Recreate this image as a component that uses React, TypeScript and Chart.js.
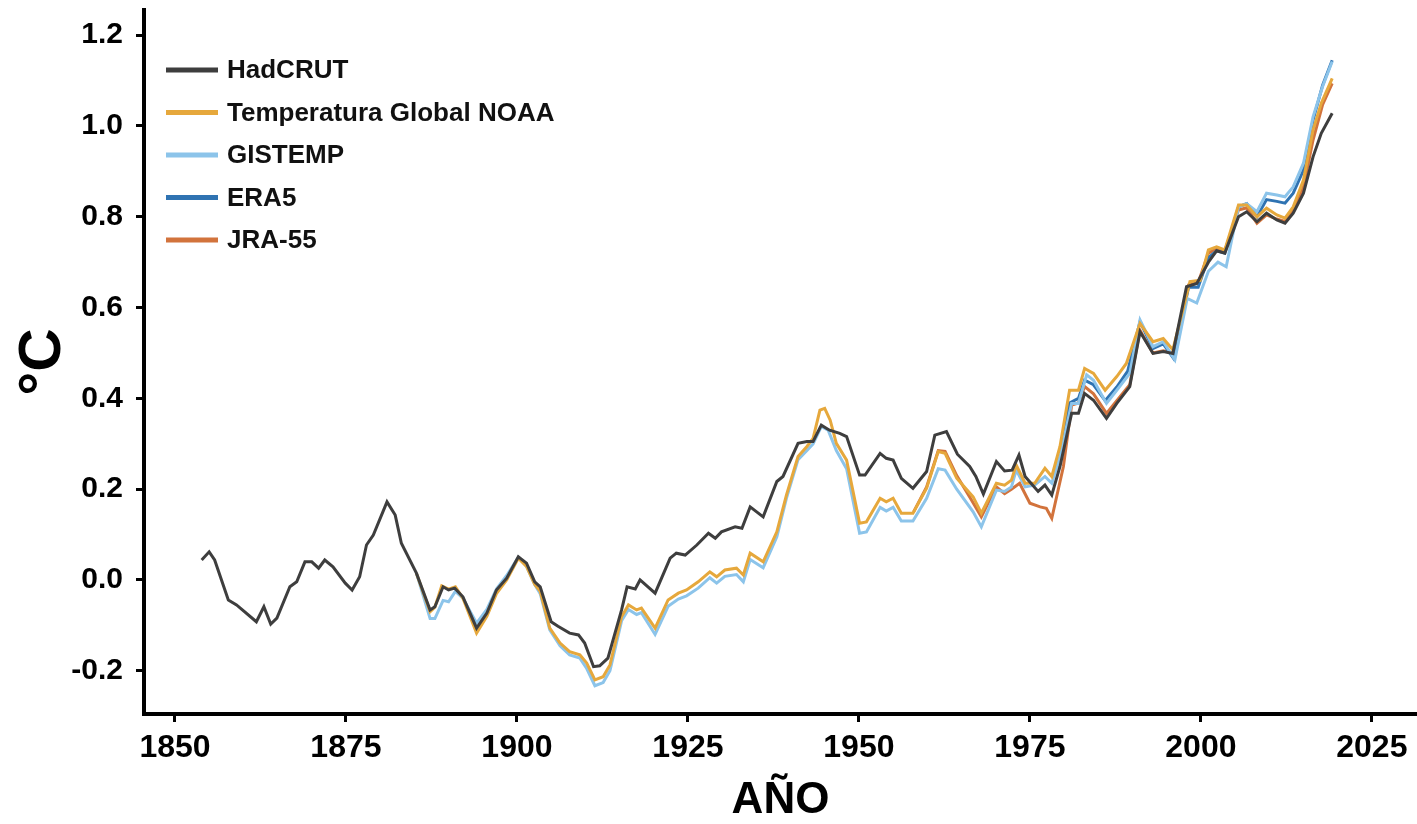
import React, { useEffect, useRef } from "react";
import { Chart, registerables } from "chart.js";

Chart.register(...registerables);

// ---- Axis ticks ----
const xTickYears = [1850, 1875, 1900, 1925, 1950, 1975, 2000, 2025];
const yTickValues = [-0.2, 0.0, 0.2, 0.4, 0.6, 0.8, 1.0, 1.2];

// ---- HadCRUT ----
const hadcrutYears = [
  1853.9, 1855.0, 1855.8, 1857.8, 1859.0, 1861.9, 1863.0, 1864.0, 1864.9, 1866.8,
  1867.8, 1869.0, 1870.0, 1871.0, 1871.9, 1873.1, 1874.9, 1875.9, 1877.0, 1878.0,
  1879.0, 1881.0, 1882.2, 1883.1, 1885.3, 1887.3, 1888.0, 1889.2, 1890.0, 1890.9,
  1892.1, 1894.1, 1895.6, 1897.0, 1898.5, 1900.2, 1901.4, 1902.6, 1903.4, 1905.0,
  1906.0, 1907.7, 1909.0, 1909.9, 1911.2, 1912.1, 1913.3, 1915.3, 1916.1, 1917.3,
  1918.0, 1920.2, 1922.4, 1923.3, 1924.6, 1926.3, 1928.0, 1929.0, 1929.9, 1931.9,
  1932.9, 1934.1, 1936.0, 1938.0, 1938.9, 1941.1, 1942.4, 1943.3, 1944.5, 1945.7,
  1947.2, 1948.2, 1950.1, 1950.9, 1953.1, 1954.0, 1955.0, 1956.2, 1957.9, 1959.9,
  1961.1, 1962.8, 1964.4, 1966.2, 1967.1, 1968.2, 1970.1, 1971.3, 1972.4, 1973.4,
  1974.3, 1976.2, 1977.2, 1978.2, 1979.4, 1981.1, 1982.1, 1983.0, 1984.3, 1986.2,
  1987.7, 1989.6, 1991.1, 1993.0, 1994.5, 1995.9, 1997.9, 1999.4, 2001.1, 2002.3,
  2003.5, 2005.5, 2006.7, 2008.2, 2009.6, 2011.1, 2012.3, 2013.5, 2015.0, 2016.4,
  2017.6, 2019.2,
];
const hadcrutValues = [
  0.044, 0.062, 0.044, -0.044, -0.055, -0.092, -0.059, -0.097, -0.084, -0.015,
  -0.004, 0.04, 0.04, 0.026, 0.044, 0.029, -0.007, -0.022, 0.007, 0.077,
  0.099, 0.172, 0.143, 0.081, 0.015, -0.066, -0.059, -0.015, -0.022, -0.018,
  -0.037, -0.106, -0.073, -0.022, 0.004, 0.051, 0.037, -0.004, -0.015, -0.092,
  -0.102, -0.117, -0.121, -0.139, -0.191, -0.189, -0.172, -0.066, -0.015, -0.02,
  0.0, -0.029, 0.048, 0.059, 0.055, 0.077, 0.103, 0.092, 0.106, 0.117,
  0.114, 0.161, 0.139, 0.217, 0.228, 0.301, 0.305, 0.305, 0.341, 0.33,
  0.323, 0.316, 0.231, 0.231, 0.279, 0.268, 0.264, 0.224, 0.202, 0.239,
  0.319, 0.327, 0.277, 0.25, 0.228, 0.189, 0.261, 0.24, 0.242, 0.275,
  0.228, 0.195, 0.209, 0.187, 0.25, 0.367, 0.367, 0.411, 0.396, 0.356,
  0.389, 0.426, 0.547, 0.499, 0.503, 0.499, 0.646, 0.653, 0.7, 0.725,
  0.72, 0.8, 0.811, 0.789, 0.808, 0.793, 0.786, 0.808, 0.852, 0.932,
  0.984, 1.028,
];

// ---- NOAA Global Temp ----
const noaaYears = [
  1885.3, 1887.3, 1888.0, 1889.0, 1890.0, 1891.0, 1892.1, 1894.1, 1895.6, 1897.0,
  1898.5, 1900.2, 1901.4, 1902.6, 1903.4, 1904.8, 1906.3, 1907.7, 1909.2, 1910.2,
  1911.4, 1912.6, 1913.6, 1915.3, 1916.3, 1917.5, 1918.2, 1920.2, 1922.1, 1923.6,
  1924.8, 1926.5, 1928.2, 1929.2, 1930.4, 1932.1, 1933.1, 1934.1, 1936.0, 1938.0,
  1939.4, 1941.1, 1942.4, 1943.3, 1944.3, 1945.0, 1945.8, 1946.7, 1948.2, 1950.1,
  1951.1, 1953.1, 1954.0, 1955.0, 1956.2, 1957.9, 1959.9, 1961.6, 1962.6, 1964.3,
  1966.7, 1967.9, 1970.1, 1971.3, 1972.3, 1973.0, 1974.3, 1975.7, 1977.2, 1978.2,
  1979.4, 1980.8, 1982.1, 1983.0, 1984.3, 1986.0, 1987.7, 1989.1, 1991.1, 1993.0,
  1994.5, 1995.9, 1998.4, 1999.9, 2001.1, 2002.3, 2003.5, 2005.5, 2006.7, 2008.2,
  2009.6, 2011.1, 2012.3, 2013.5, 2015.0, 2016.4, 2017.6, 2019.2,
];
const noaaValues = [
  0.015, -0.07, -0.06, -0.013, -0.02, -0.015, -0.04, -0.117, -0.08, -0.03,
  0.0, 0.048, 0.03, -0.01, -0.025, -0.106, -0.139, -0.158, -0.165, -0.183,
  -0.22, -0.213, -0.187, -0.081, -0.055, -0.066, -0.062, -0.106, -0.044, -0.029,
  -0.022, -0.004, 0.018, 0.007, 0.022, 0.026, 0.011, 0.059, 0.04, 0.106,
  0.187, 0.272, 0.294, 0.312, 0.374, 0.378, 0.352, 0.301, 0.264, 0.125,
  0.128, 0.18, 0.172, 0.18, 0.147, 0.147, 0.202, 0.283, 0.279, 0.224,
  0.183, 0.147, 0.213, 0.209, 0.22, 0.253, 0.213, 0.213, 0.246, 0.228,
  0.294, 0.418, 0.418, 0.466, 0.455, 0.418, 0.448, 0.477, 0.565, 0.525,
  0.532, 0.507, 0.657, 0.66, 0.727, 0.734, 0.727, 0.826, 0.826, 0.8,
  0.819, 0.804, 0.797, 0.822, 0.881, 0.991, 1.05, 1.105,
];

// ---- GISTEMP ----
const gistempYears = [
  1885.3, 1887.3, 1888.0, 1889.2, 1890.0, 1891.0, 1892.1, 1894.1, 1895.6, 1897.0,
  1898.5, 1900.2, 1901.4, 1902.6, 1903.4, 1904.8, 1906.3, 1907.7, 1909.2, 1910.2,
  1911.4, 1912.6, 1913.6, 1915.3, 1916.3, 1917.5, 1918.2, 1920.2, 1922.1, 1923.6,
  1924.8, 1926.5, 1928.2, 1929.2, 1930.4, 1932.1, 1933.1, 1934.1, 1936.0, 1938.0,
  1939.4, 1941.1, 1942.4, 1943.3, 1944.5, 1945.5, 1946.7, 1948.2, 1950.1, 1951.1,
  1953.1, 1954.0, 1955.0, 1956.2, 1957.9, 1959.9, 1961.6, 1962.6, 1964.3, 1966.7,
  1967.9, 1970.1, 1971.3, 1972.3, 1973.0, 1974.3, 1975.7, 1977.2, 1978.2, 1979.4,
  1981.1, 1982.1, 1983.3, 1984.3, 1986.2, 1987.7, 1989.6, 1991.1, 1993.0, 1994.5,
  1996.2, 1998.0, 1999.4, 2001.1, 2002.5, 2003.7, 2005.5, 2006.7, 2008.2, 2009.6,
  2011.1, 2012.3, 2013.5, 2015.0, 2016.4, 2017.8, 2019.2,
];
const gistempValues = [
  0.015, -0.085, -0.085, -0.045, -0.048, -0.025, -0.04, -0.095, -0.065, -0.02,
  0.01, 0.05, 0.03, -0.01, -0.03, -0.11, -0.145, -0.165, -0.172, -0.195,
  -0.233, -0.226, -0.2, -0.09, -0.065, -0.076, -0.072, -0.12, -0.058, -0.042,
  -0.035, -0.018, 0.005, -0.007, 0.008, 0.012, -0.004, 0.045, 0.027, 0.095,
  0.18, 0.265, 0.285, 0.3, 0.338, 0.33, 0.285, 0.245, 0.103, 0.106,
  0.16, 0.152, 0.16, 0.13, 0.13, 0.18, 0.245, 0.242, 0.2, 0.15,
  0.117, 0.198, 0.195, 0.205, 0.242, 0.205, 0.209, 0.228, 0.213, 0.272,
  0.389, 0.389, 0.452, 0.44, 0.389, 0.418, 0.455, 0.573, 0.514, 0.525,
  0.485, 0.62, 0.61, 0.68, 0.7, 0.69, 0.822, 0.829, 0.811, 0.852,
  0.848, 0.844, 0.866, 0.918, 1.02, 1.087, 1.142,
];

// ---- ERA5 ----
const era5Years = [
  1979.4, 1980.8, 1982.1, 1983.0, 1984.3, 1986.0, 1987.7, 1989.3, 1991.1, 1993.0,
  1994.5, 1996.0, 1998.2, 1999.6, 2001.1, 2002.3, 2003.5, 2005.5, 2006.7, 2008.2,
  2009.6, 2011.1, 2012.3, 2013.5, 2015.0, 2016.4, 2017.8, 2019.2,
];
const era5Values = [
  0.28, 0.39, 0.4, 0.44, 0.43, 0.395, 0.425, 0.46, 0.569, 0.51,
  0.52, 0.488, 0.645, 0.645, 0.71, 0.725, 0.72, 0.822, 0.829, 0.8,
  0.838, 0.834, 0.83, 0.852, 0.903, 1.013, 1.09, 1.145,
];

// ---- JRA-55 ----
const jra55Years = [
  1958.0, 1959.9, 1961.6, 1962.6, 1964.3, 1966.5, 1967.9, 1970.1, 1971.3, 1972.3,
  1973.5, 1975.0, 1976.5, 1977.4, 1978.2, 1979.9, 1981.1, 1982.1, 1983.0, 1984.3,
  1986.2, 1987.7, 1989.6, 1991.1, 1993.0, 1994.5, 1995.9, 1998.2, 1999.6, 2001.1,
  2002.3, 2003.5, 2005.5, 2006.7, 2008.2, 2009.6, 2011.1, 2012.3, 2013.5, 2015.0,
  2016.4, 2017.8, 2019.2,
];
const jra55Values = [
  0.15, 0.205, 0.285, 0.283, 0.23, 0.175, 0.139, 0.205, 0.19, 0.2,
  0.213, 0.169, 0.161, 0.158, 0.136, 0.25, 0.385, 0.39, 0.426, 0.41,
  0.367, 0.395, 0.43, 0.55, 0.5, 0.505, 0.5, 0.65, 0.655, 0.72,
  0.73, 0.725, 0.815, 0.82, 0.786, 0.804, 0.795, 0.79, 0.815, 0.866,
  0.969, 1.047, 1.094,
];

const seriesLabels = ["HadCRUT", "Temperatura Global NOAA", "GISTEMP", "ERA5", "JRA-55"];
const seriesColors = ["#3e3e3e", "#e6a83c", "#8cc4ea", "#2f73b2", "#d2733c"];

const FONT = "'Liberation Sans', Arial, Helvetica, sans-serif";

const zip = (xs: number[], ys: number[]) => xs.map((x, i) => ({ x, y: ys[i] }));

const insideLegend = {
  id: "insideLegend",
  afterDraw(chart: any) {
    const { ctx, chartArea } = chart;
    const x0 = chartArea.left + 22;
    const x1 = chartArea.left + 74;
    const tx = chartArea.left + 83;
    const y0 = chartArea.top + 60;
    const gap = 42.5;
    ctx.save();
    chart.data.datasets.forEach((ds: any, i: number) => {
      const y = y0 + i * gap;
      ctx.strokeStyle = ds.borderColor;
      ctx.lineWidth = 5;
      ctx.lineCap = "butt";
      ctx.beginPath();
      ctx.moveTo(x0, y);
      ctx.lineTo(x1, y);
      ctx.stroke();
      ctx.fillStyle = "#111";
      ctx.font = `bold 26px ${FONT}`;
      ctx.textBaseline = "middle";
      ctx.textAlign = "left";
      ctx.fillText(ds.label, tx, y + 1);
    });
    ctx.restore();
  },
};

export default function App() {
  const canvasRef = useRef<HTMLCanvasElement | null>(null);

  useEffect(() => {
    if (!canvasRef.current) return;
    const seriesData = [
      zip(hadcrutYears, hadcrutValues),
      zip(noaaYears, noaaValues),
      zip(gistempYears, gistempValues),
      zip(era5Years, era5Values),
      zip(jra55Years, jra55Values),
    ];
    const chart = new Chart(canvasRef.current, {
      type: "line",
      data: {
        datasets: seriesData.map((d, i) => ({
          label: seriesLabels[i],
          data: d,
          borderColor: seriesColors[i],
          backgroundColor: seriesColors[i],
          borderWidth: 3,
          pointRadius: 0,
          tension: 0,
          fill: false,
        })),
      },
      options: {
        responsive: false,
        animation: false,
        layout: { padding: { top: 10, right: 0, bottom: 0, left: 0 }, autoPadding: false },
        plugins: {
          legend: { display: false },
          tooltip: { enabled: false },
        },
        scales: {
          x: {
            type: "linear",
            min: 1845.47,
            max: 2031.6,
            afterFit: (s: any) => {
              s.height = 110;
              s.paddingLeft = 0;
              s.paddingRight = 0;
            },
            afterBuildTicks: (s: any) => {
              s.ticks = xTickYears.map((v) => ({ value: v }));
            },
            ticks: {
              color: "#000",
              font: { family: FONT, size: 32, weight: "bold" },
              padding: 7,
              maxRotation: 0,
              autoSkip: false,
              callback: (v: any) => String(v),
            },
            grid: {
              display: true,
              drawOnChartArea: false,
              drawTicks: true,
              tickLength: 8,
              tickWidth: 3,
              tickColor: "#000",
            },
            border: { display: true, color: "#000", width: 4 },
            title: {
              display: true,
              text: "AÑO",
              color: "#000",
              font: { family: FONT, size: 44, weight: "bold", lineHeight: 1 },
              padding: { top: 0, bottom: 1 },
            },
          },
          y: {
            type: "linear",
            min: -0.2952,
            max: 1.2555,
            afterFit: (s: any) => {
              s.width = 144;
              s.paddingTop = 0;
              s.paddingBottom = 0;
            },
            afterBuildTicks: (s: any) => {
              s.ticks = yTickValues.map((v) => ({ value: v }));
            },
            ticks: {
              color: "#000",
              font: { family: FONT, size: 30, weight: "bold" },
              padding: 13,
              autoSkip: false,
              callback: (v: any) => Number(v).toFixed(1),
            },
            grid: {
              display: true,
              drawOnChartArea: false,
              drawTicks: true,
              tickLength: 8,
              tickWidth: 3,
              tickColor: "#000",
            },
            border: { display: true, color: "#000", width: 4 },
            title: {
              display: true,
              text: "°C",
              color: "#000",
              font: { family: FONT, size: 60, weight: "bold", lineHeight: 1 },
              padding: { top: 13, bottom: 0 },
            },
          },
        },
      },
      plugins: [insideLegend],
    });
    return () => chart.destroy();
  }, []);

  return (
    <div style={{ position: "absolute", left: 0, top: 0, width: 1417, height: 824, background: "#fff" }}>
      <canvas ref={canvasRef} width={1417} height={824} style={{ display: "block" }} />
    </div>
  );
}
